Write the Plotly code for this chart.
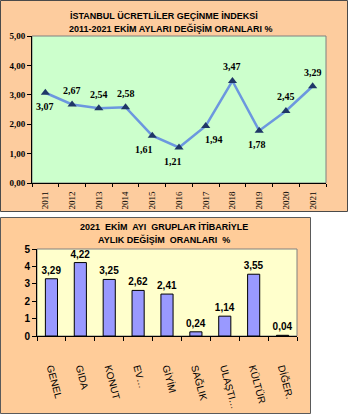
import plotly.graph_objects as go

W, H = 349, 415

# ---- data: top chart ----
years = [2011, 2012, 2013, 2014, 2015, 2016, 2017, 2018, 2019, 2020, 2021]
rates = [3.07, 2.67, 2.54, 2.58, 1.61, 1.21, 1.94, 3.47, 1.78, 2.45, 3.29]
rate_labels = ["3,07", "2,67", "2,54", "2,58", "1,61", "1,21", "1,94", "3,47", "1,78", "2,45", "3,29"]
label_side = [-1, 1, 1, 1, -1, -1, -1, 1, -1, 1, 1]  # +1 above, -1 below
label_dx = [0, 0, 0, 0, -8, -6, 8, 0, -2, 0, 0]
y1_ticks = [0, 1, 2, 3, 4, 5]
y1_ticktext = ["0,00", "1,00", "2,00", "3,00", "4,00", "5,00"]

# ---- data: bottom chart ----
groups = ["GENEL", "GIDA", "KONUT", "EV…", "GİYİM", "SAĞLIK", "ULAŞTI…", "KÜLTÜR", "DİĞER."]
group_rates = [3.29, 4.22, 3.25, 2.62, 2.41, 0.24, 1.14, 3.55, 0.04]
group_labels = ["3,29", "4,22", "3,25", "2,62", "2,41", "0,24", "1,14", "3,55", "0,04"]
y2_ticks = [0, 1, 2, 3, 4, 5]
y2_ticktext = ["0", "1", "2", "3", "4", "5"]

SERIF = "Liberation Serif, Times New Roman, serif"
SANS = "Liberation Sans, Arial, sans-serif"
NARROW = "Liberation Sans Narrow, Arial Narrow, Liberation Sans, sans-serif"


def px_x(x):
    return x / W


def px_y(y):
    return 1 - y / H


fig = go.Figure()

fig.add_trace(go.Scatter(
    x=years, y=rates, mode="lines+markers",
    line=dict(color="#6C97DF", width=2.5),
    marker=dict(symbol="triangle-up", size=8, color="#1F3767"),
    xaxis="x", yaxis="y", hoverinfo="skip", cliponaxis=False,
))

fig.add_trace(go.Bar(
    x=groups, y=group_rates, text=group_labels, textposition="outside",
    constraintext="none",
    textfont=dict(family=NARROW, size=10, color="black", weight="bold"),
    marker=dict(color="#9999FF", line=dict(color="black", width=1)),
    xaxis="x2", yaxis="y2", hoverinfo="skip", cliponaxis=False,
))

shapes = [
    dict(type="rect", xref="paper", yref="paper", x0=px_x(0.5), x1=px_x(347.5), y0=px_y(211.5), y1=px_y(0.5),
         fillcolor="#FDCC9E", line=dict(color="#4a4a4a", width=1), layer="below"),
    dict(type="rect", xref="paper", yref="paper", x0=px_x(0.5), x1=px_x(310.5), y0=px_y(413.5), y1=px_y(217.5),
         fillcolor="#FFCC99", line=dict(color="#5a5a5a", width=1), layer="below"),
    dict(type="rect", xref="x domain", yref="y domain", x0=0, x1=1, y0=0, y1=1,
         fillcolor="#CCFFCC", line=dict(color="#808080", width=1), layer="below"),
    dict(type="rect", xref="x2 domain", yref="y2 domain", x0=0, x1=1, y0=0, y1=1,
         fillcolor="#FFFFCC", line=dict(color="#808080", width=1), layer="below"),
]

annotations = [
    dict(text="<b>İSTANBUL ÜCRETLİLER GEÇİNME İNDEKSİ</b>", xref="paper", yref="paper",
         x=px_x(164), y=px_y(9), showarrow=False, font=dict(family=SANS, size=9, color="black")),
    dict(text="<b>2011-2021 EKİM AYLARI DEĞİŞİM ORANLARI %</b>", xref="paper", yref="paper",
         x=px_x(170), y=px_y(21), showarrow=False, font=dict(family=SANS, size=9, color="black")),
    dict(text="<b>2021  EKİM  AYI  GRUPLAR İTİBARİYLE</b>", xref="paper", yref="paper",
         x=px_x(164), y=px_y(227), showarrow=False, font=dict(family=NARROW, size=9, color="black")),
    dict(text="<b>AYLIK DEĞİŞİM  ORANLARI  %</b>", xref="paper", yref="paper",
         x=px_x(164), y=px_y(239), showarrow=False, font=dict(family=NARROW, size=9, color="black")),
]

for yr, v, lab, side, dx in zip(years, rates, rate_labels, label_side, label_dx):
    annotations.append(dict(
        text=f"<b>{lab}</b>", x=yr, y=v, xref="x", yref="y", showarrow=False,
        yshift=14 * side, xshift=dx, font=dict(family=SERIF, size=10, color="black"),
    ))

fig.update_layout(
    width=W, height=H, margin=dict(l=0, r=0, t=0, b=0, autoexpand=False),
    paper_bgcolor="white", plot_bgcolor="rgba(0,0,0,0)",
    showlegend=False, shapes=shapes, annotations=annotations,
    bargap=0.58,
    xaxis=dict(domain=[px_x(32), px_x(326)], anchor="y", type="linear", automargin=False,
               range=[years[0] - 0.5, years[-1] + 0.5],
               tickmode="array", tickvals=years, ticktext=[str(y) for y in years],
               showline=True, linecolor="black", linewidth=1, showgrid=False, zeroline=False,
               ticks="", ticklabelstandoff=4,
               minor=dict(tickmode="linear", tick0=years[0] - 0.5, dtick=1, ticks="outside",
                          ticklen=3, tickcolor="black", showgrid=False),
               tickangle=-90, tickfont=dict(family=SERIF, size=9, color="black"), fixedrange=True),
    yaxis=dict(domain=[px_y(183), px_y(36)], anchor="x", range=[0, 5], automargin=False,
               tickvals=y1_ticks, ticktext=y1_ticktext,
               showline=True, linecolor="black", linewidth=1, showgrid=False, zeroline=False,
               ticks="outside", ticklen=4, tickcolor="black",
               tickfont=dict(family=SERIF, size=9, color="black", weight="bold"), fixedrange=True),
    xaxis2=dict(domain=[px_x(37), px_x(297)], anchor="y2", type="category", automargin=False,
                showline=True, linecolor="black", linewidth=1, showgrid=False, zeroline=False,
                ticks="outside", ticklen=4, tickcolor="black", tickson="boundaries",
                tickangle=75, ticklabelstandoff=21,
                tickfont=dict(family=NARROW, size=10, color="black"), fixedrange=True),
    yaxis2=dict(domain=[px_y(336), px_y(249)], anchor="x2", range=[0, 5], automargin=False,
                tickvals=y2_ticks, ticktext=y2_ticktext,
                showline=True, linecolor="black", linewidth=1, showgrid=False, zeroline=False,
                ticks="outside", ticklen=4, tickcolor="black",
                tickfont=dict(family=NARROW, size=10, color="black", weight="bold"), fixedrange=True),
)

fig.write_html("out.html")
